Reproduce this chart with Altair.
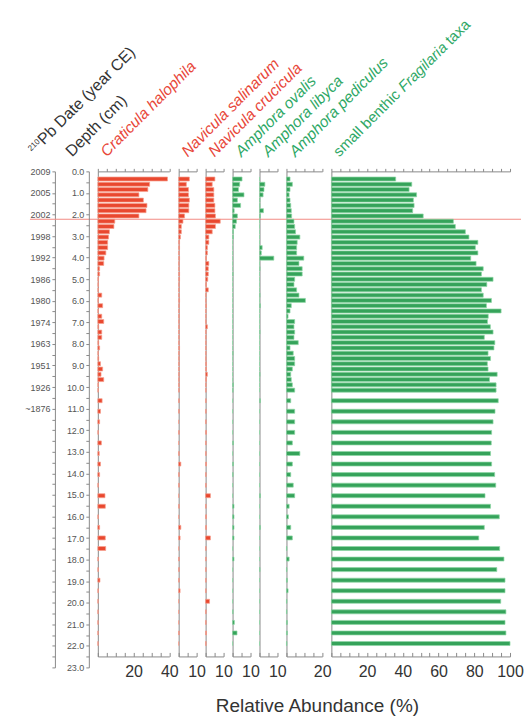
import altair as alt
import pandas as pd

# ---------------- data ----------------
depths = [0.125, 0.375, 0.625, 0.875, 1.125, 1.375, 1.625, 1.875, 2.125, 2.375,
          2.625, 2.875, 3.125, 3.375, 3.625, 3.875, 4.125, 4.375, 4.625, 4.875,
          5.125, 5.375, 5.625, 5.875, 6.125, 6.375, 6.625, 6.875, 7.125, 7.375,
          7.625, 7.875, 8.125, 8.375, 8.625, 8.875, 9.125, 9.375, 9.625, 9.875,
          10.125,
          10.625, 11.125, 11.625, 12.125, 12.625, 13.125, 13.625, 14.125, 14.625,
          15.125, 15.625, 16.125, 16.625, 17.125, 17.625, 18.125, 18.625, 19.125,
          19.625, 20.125, 20.625, 21.125, 21.625, 22.125]

craticula = [39, 29, 28, 23, 25.5, 27.5, 27, 23, 9.5, 9, 6.5, 6, 5.5, 5.5, 4.5, 3.5, 3.3, 1, 1, 0.4,
             0.4, 0.3, 2.2, 0.3, 2.7, 0.3, 2.2, 3.3, 0.5, 2.2, 2.2, 0.5, 1, 0.3, 0.5, 1.5, 2.7, 1.8, 3.3, 0.3,
             0.3,
             2.4, 1.5, 1, 0.3, 2, 0.8, 1.5, 1, 0.3, 4, 4.2, 0.3, 1, 4.2, 4.4, 0.3, 0.3, 1.2, 0.3, 0.2,
             0.2, 0.2, 0.2, 0.2]
nav_salinarum = [6, 4.3, 5.5, 5.5, 6, 5.7, 5.7, 3.3, 2.4, 1.5, 1.5, 1, 0.5, 0.5, 0.3, 0.5, 0.3, 0.3, 0.5, 0.5,
                 0.3, 0.3, 0.3, 0.5, 0.3, 0.3, 0.3, 0.3, 0.3, 0.3, 0.3, 0.3, 0.5, 0.3, 0.3, 0.3, 0.3, 0.3, 0.3, 0.3,
                 0.3,
                 0.3, 0.3, 0, 0.3, 0, 0.3, 1.2, 0.3, 0.3, 0, 0.3, 0, 1.2, 0.8, 0, 0.3, 0.3, 0.3, 0.8, 0,
                 0, 0, 0.3, 0]
nav_crucicula = [5.2, 3.7, 4.6, 4.6, 4.6, 5.2, 5.2, 5.5, 8.2, 5.5, 3.7, 1.8, 1.8, 1, 1, 0.5, 1.8, 1.5, 1.5, 1.2,
                 0.5, 1.5, 0.3, 0.3, 0.5, 0.3, 0.3, 0.3, 1, 0.3, 0.3, 0.3, 0.3, 0.3, 0.3, 0.5, 0.5, 1, 0.5, 0.3,
                 0.3,
                 0.3, 0.3, 0.3, 0.5, 0.3, 0.3, 0.5, 0.3, 0.3, 2.7, 0.3, 0.5, 0.5, 2.7, 0.3, 0.3, 0.3, 0.3, 0.3,
                 2.2, 0.3, 0.3, 0.5, 0.3]
amph_ovalis = [5.3, 4, 3.3, 6.4, 2.7, 4.5, 0.9, 2.7, 2.2, 1.5, 0.5, 0.5, 0, 0, 0, 0, 0, 0, 0.3, 0,
               0, 0, 0, 0, 0, 0, 0, 0, 0, 0, 0, 0, 0, 0.3, 0, 0, 0, 0, 0, 0.5,
               0.3,
               0, 0, 0, 0, 0.5, 0, 0.5, 0.3, 0, 0, 0.8, 0.8, 0.8, 0.8, 0, 0.8, 0, 0, 0, 0,
               0.3, 1, 2.5, 0]
amph_libyca = [0, 3, 2.5, 2, 0.3, 0.3, 2.2, 0.5, 0, 0, 0, 0, 0, 1.5, 1, 8, 0, 0.3, 0, 0,
               0, 0, 0.3, 0, 0.5, 0, 0, 0, 0, 0.3, 0, 0, 0, 0, 0, 0, 0, 0.3, 0, 0,
               0,
               0.5, 0, 0, 0, 0, 0, 0, 0, 0, 0.5, 0, 0, 0.5, 0, 0, 0, 0.3, 0, 0, 0,
               0, 0, 0, 0]
amph_pediculus = [2.0, 3.3, 2.0, 1.5, 2.0, 2.4, 2.7, 2.9, 4.2, 4.6, 5.1, 7.5, 6.0, 5.7, 5.7, 9.7, 7.0, 8.8, 8.8, 4.6,
                  4.2, 5.7, 7.0, 10.6, 2.7, 2.0, 0.9, 4.6, 4.2, 4.6, 4.2, 6.6, 2.0, 3.8, 4.6, 4.6, 3.3, 2.4, 2.7, 3.3,
                  4.6,
                  2.4, 4.6, 4.6, 4.6, 3.3, 7.5, 3.3, 2.4, 3.8, 4.6, 1.5, 1.1, 2.4, 3.3, 0.3, 1.5, 0.3, 0.5, 0.9, 0.3,
                  0.3, 0.5, 0.5, 0.3]
fragilaria = [36, 45, 43.5, 47.7, 45.9, 46.3, 45.5, 51.4, 68.3, 69.4, 75, 77, 82, 80.6, 82, 78, 81, 85, 84, 90.5,
              87, 84, 85, 89.6, 86.8, 95, 87.8, 87.4, 89, 90.5, 85.6, 91.5, 91, 87.7, 89.1, 87.3, 87.7, 92.8, 88.5, 92.2,
              92.2,
              93.4, 91.6, 90.5, 89.7, 89.5, 89.1, 89.7, 91.4, 92, 86, 89.1, 94, 85.6, 82.5, 94.2, 96.6, 92.6, 97.2, 97.2,
              94.8, 97.7, 97.2, 97.7, 100]

date_labels = ["2009", "2005", "2002", "1998", "1992", "1986", "1980", "1974", "1963", "1951", "1926", "~1876"]
boundary_depth = 2.22

# ---------------- style ----------------
FONT = "Liberation Sans"
K = 1.79          # px per percent
H = 486           # plot height (0 - 22.5 cm)
HA = 497          # axis height (0 - 23 cm)
RED, RED_EDGE, RED_TXT = "#e9482f", "#f6a08f", "#e8473a"
GRN, GRN_EDGE, GRN_TXT = "#35a35a", "#8fd6a6", "#2fa866"
AX = "#8a8a8a"
HFS = 15.5        # header font size

half_ticks = [i * 0.5 for i in range(47)]
ys_panel = alt.Scale(domain=[0, 22.5], reverse=True, nice=False, zero=False)
ys_axis = alt.Scale(domain=[0, 23], reverse=True, nice=False, zero=False)


def header(parts, x0, y0):
    """parts: list of (text, fontsize, style, color, dx, dy)"""
    layers = []
    for txt, fs, style, col, dx, dy in parts:
        layers.append(
            alt.Chart(pd.DataFrame({"t": [txt]})).mark_text(
                angle=315, align="left", baseline="alphabetic", font=FONT,
                fontSize=fs, fontStyle=style, color=col
            ).encode(x=alt.value(x0 + dx), y=alt.value(y0 + dy), text="t:N")
        )
    return layers


def panel(vals, dmax, fill, edge, label_vals, head_layers):
    df = pd.DataFrame({"depth": depths, "v": vals})
    ticks = list(range(0, dmax + 1, 5))
    xs = alt.Scale(domain=[0, dmax], nice=False, zero=True)
    lab = "indexof(" + str(label_vals) + ", datum.value) >= 0 ? datum.label : ''"
    base = alt.Chart(df)
    bars = base.mark_bar(orient="horizontal", size=4, color=fill, stroke=edge,
                         strokeWidth=0.7).encode(
        x=alt.X("v:Q", scale=xs, axis=alt.Axis(
            orient="bottom", values=ticks, labelExpr=lab, domain=False, ticks=False,
            labelPadding=7, labelFontSize=16, labelFont=FONT, labelColor="#333",
            labelFlush=False, labelOverlap=False, grid=False, title=None)),
        y=alt.Y("depth:Q", scale=ys_panel, axis=alt.Axis(
            orient="left", labels=False, ticks=False, grid=False, title=None,
            domainColor=AX, domainWidth=1)),
    )
    top = base.mark_point(opacity=0).encode(
        x=alt.X("v:Q", scale=xs, axis=alt.Axis(
            orient="top", values=ticks, labels=False, tickSize=3, tickColor=AX,
            domainColor=AX, grid=False, title=None)),
        y=alt.Y("depth:Q", scale=ys_panel),
    )
    bottom = base.mark_point(opacity=0).encode(
        x=alt.X("v:Q", scale=xs, axis=alt.Axis(
            orient="top", offset=-H, values=ticks, labels=False, tickSize=4,
            tickColor=AX, domainColor=AX, grid=False, title=None)),
        y=alt.Y("depth:Q", scale=ys_panel),
    )
    layers = [bars, top, bottom] + head_layers
    return alt.layer(*layers).resolve_axis(x="independent").properties(
        width=dmax * K, height=H)


# ---- date axis panel (with the boundary line) ----
ax_df = pd.DataFrame({"d": [0, 23]})
date_expr = ("datum.value % 1 == 0 && datum.value <= 11 ? "
             + str(date_labels) + "[datum.value] : ''")
date_unit = alt.Chart(ax_df).mark_point(opacity=0).encode(
    y=alt.Y("d:Q", scale=ys_axis, axis=alt.Axis(
        orient="left", values=half_ticks, labelExpr=date_expr,
        tickSize=3, tickColor=AX, domainColor=AX, labelFontSize=9, labelFont=FONT,
        labelColor="#555", labelPadding=2, labelOverlap=False, labelFlush=False,
        grid=False, title=None)))
rule = alt.Chart(pd.DataFrame({"b": [boundary_depth]})).mark_rule(
    color="#f28b85", strokeWidth=1.1).encode(
    y=alt.Y("b:Q", scale=ys_axis, axis=None),
    x=alt.value(-25), x2=alt.value(467))
date_panel = alt.layer(
    rule, date_unit,
    *header([("210", 8, "normal", "#333", -3, -4),
             ("Pb Date (year CE)", 16, "normal", "#333", 10, -10)], -21, -16)
).resolve_axis(y="independent").properties(width=23, height=HA)

# ---- depth axis panel ----
depth_unit = alt.Chart(ax_df).mark_point(opacity=0).encode(
    y=alt.Y("d:Q", scale=ys_axis, axis=alt.Axis(
        orient="left", offset=-2, values=half_ticks,
        labelExpr="datum.value % 1 == 0 ? format(datum.value, '.1f') : ''",
        tickSize=3, tickColor=AX, domainColor=AX, labelFontSize=9, labelFont=FONT,
        labelColor="#555", labelPadding=2, labelOverlap=False, labelFlush=False,
        grid=False, title=None)))
depth_panel = alt.layer(
    depth_unit,
    *header([("Depth (cm)", 16, "normal", "#333", 0, 0)], -15, -14)
).properties(width=2, height=HA)

xlabel = alt.Chart(pd.DataFrame({"t": ["Relative Abundance (%)"]})).mark_text(
    font=FONT, fontSize=19, color="#333", align="center", baseline="middle").encode(
    x=alt.value(220), y=alt.value(H + 50), text="t:N")

p1 = panel(craticula, 40, RED, RED_EDGE, [20, 40],
           header([("Craticula halophila", HFS, "italic", RED_TXT, 0, 0)], 9, -14) + [xlabel])
p2 = panel(nav_salinarum, 10, RED, RED_EDGE, [10],
           header([("Navicula salinarum", HFS, "italic", RED_TXT, 0, 0)], 9, -14))
p3 = panel(nav_crucicula, 10, RED, RED_EDGE, [10],
           header([("Navicula crucicula", HFS, "italic", RED_TXT, 0, 0)], 9, -14))
p4 = panel(amph_ovalis, 10, GRN, GRN_EDGE, [10],
           header([("Amphora ovalis", HFS, "italic", GRN_TXT, 0, 0)], 9, -14))
p5 = panel(amph_libyca, 10, GRN, GRN_EDGE, [10],
           header([("Amphora libyca", HFS, "italic", GRN_TXT, 0, 0)], 9, -14))
p6 = panel(amph_pediculus, 20, GRN, GRN_EDGE, [20],
           header([("Amphora pediculus", HFS, "italic", GRN_TXT, 0, 0)], 9, -14))
p7 = panel(fragilaria, 100, GRN, GRN_EDGE, [20, 40, 60, 80, 100],
           header([("small benthic ", 15, "normal", GRN_TXT, 0, 0),
                   ("Fragilaria", 15, "italic", GRN_TXT, 65, -65),
                   (" taxa", 15, "normal", GRN_TXT, 112, -112)], 8, -14))

chart = alt.hconcat(date_panel, depth_panel, p1, p2, p3, p4, p5, p6, p7,
                    spacing=9, bounds="flush").properties(
    padding={"left": 16, "top": 8, "right": 0, "bottom": 0}
).configure_view(stroke=None).configure_axis(grid=False)

chart.save("out.html", embed_options={"renderer": "svg", "actions": False})
